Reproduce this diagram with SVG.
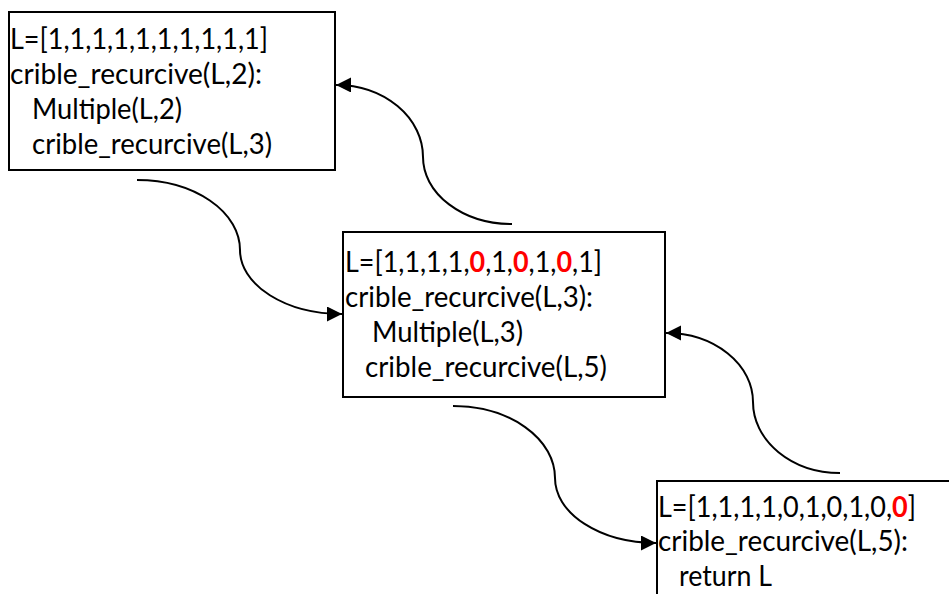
<svg xmlns="http://www.w3.org/2000/svg" width="949" height="594" viewBox="0 0 949 594">
<style>
.box{fill:#fff;stroke:#000;stroke-width:2}
.t{font-family:Lato,"Open Sans","Liberation Sans",sans-serif;font-size:28px;fill:#000}
.r{fill:#ff0000;font-weight:bold}
.c{fill:none;stroke:#000;stroke-width:2}
</style>
<defs>
<marker id="ah" markerUnits="userSpaceOnUse" markerWidth="16" markerHeight="16" refX="15" refY="7.5" orient="auto">
<path d="M0,0 L15,7.5 L0,15 z" fill="#000"/>
</marker>
</defs>
<rect width="949" height="594" fill="#fff"/>
<g id="node1">
<rect class="box" x="9" y="12" width="326" height="158"/>
<text class="t" x="10" y="49" textLength="258" lengthAdjust="spacingAndGlyphs">L=[1,1,1,1,1,1,1,1,1,1]</text>
<text class="t" x="10" y="84" textLength="252" lengthAdjust="spacingAndGlyphs">crible_recurcive(L,2):</text>
<text class="t" x="32" y="119" textLength="150" lengthAdjust="spacingAndGlyphs">Multiple(L,2)</text>
<text class="t" x="32" y="154" textLength="240" lengthAdjust="spacingAndGlyphs">crible_recurcive(L,3)</text>
</g>
<g id="node2">
<rect class="box" x="343" y="232" width="322" height="165"/>
<text class="t" x="345" y="272" textLength="257" lengthAdjust="spacingAndGlyphs">L=[1,1,1,1,<tspan class="r">0</tspan>,1,<tspan class="r">0</tspan>,1,<tspan class="r">0</tspan>,1]</text>
<text class="t" x="345" y="307" textLength="248" lengthAdjust="spacingAndGlyphs">crible_recurcive(L,3):</text>
<text class="t" x="372" y="342" textLength="151" lengthAdjust="spacingAndGlyphs">Multiple(L,3)</text>
<text class="t" x="365" y="377" textLength="242" lengthAdjust="spacingAndGlyphs">crible_recurcive(L,5)</text>
</g>
<g id="node3">
<rect class="box" x="657" y="481" width="310" height="130"/>
<text class="t" x="658" y="517" textLength="258" lengthAdjust="spacingAndGlyphs">L=[1,1,1,1,0,1,0,1,0,<tspan class="r">0</tspan>]</text>
<text class="t" x="658" y="551" textLength="250" lengthAdjust="spacingAndGlyphs">crible_recurcive(L,5):</text>
<text class="t" x="679" y="586" textLength="93" lengthAdjust="spacingAndGlyphs">return L</text>
</g>
<g id="connectors">
<path class="c" marker-end="url(#ah)" d="M137,180 A103,70 0 0 1 240,250 A102,64 0 0 0 342,314"/>
<path class="c" marker-end="url(#ah)" d="M512,224 A89,67 0 0 1 423,157 A87,72 0 0 0 336,85"/>
<path class="c" marker-end="url(#ah)" d="M453,406 A102,72 0 0 1 555,478 A101,65 0 0 0 656,543"/>
<path class="c" marker-end="url(#ah)" d="M840,473 A87,71 0 0 1 753,402 A87,69 0 0 0 666,333"/>
</g>
</svg>
